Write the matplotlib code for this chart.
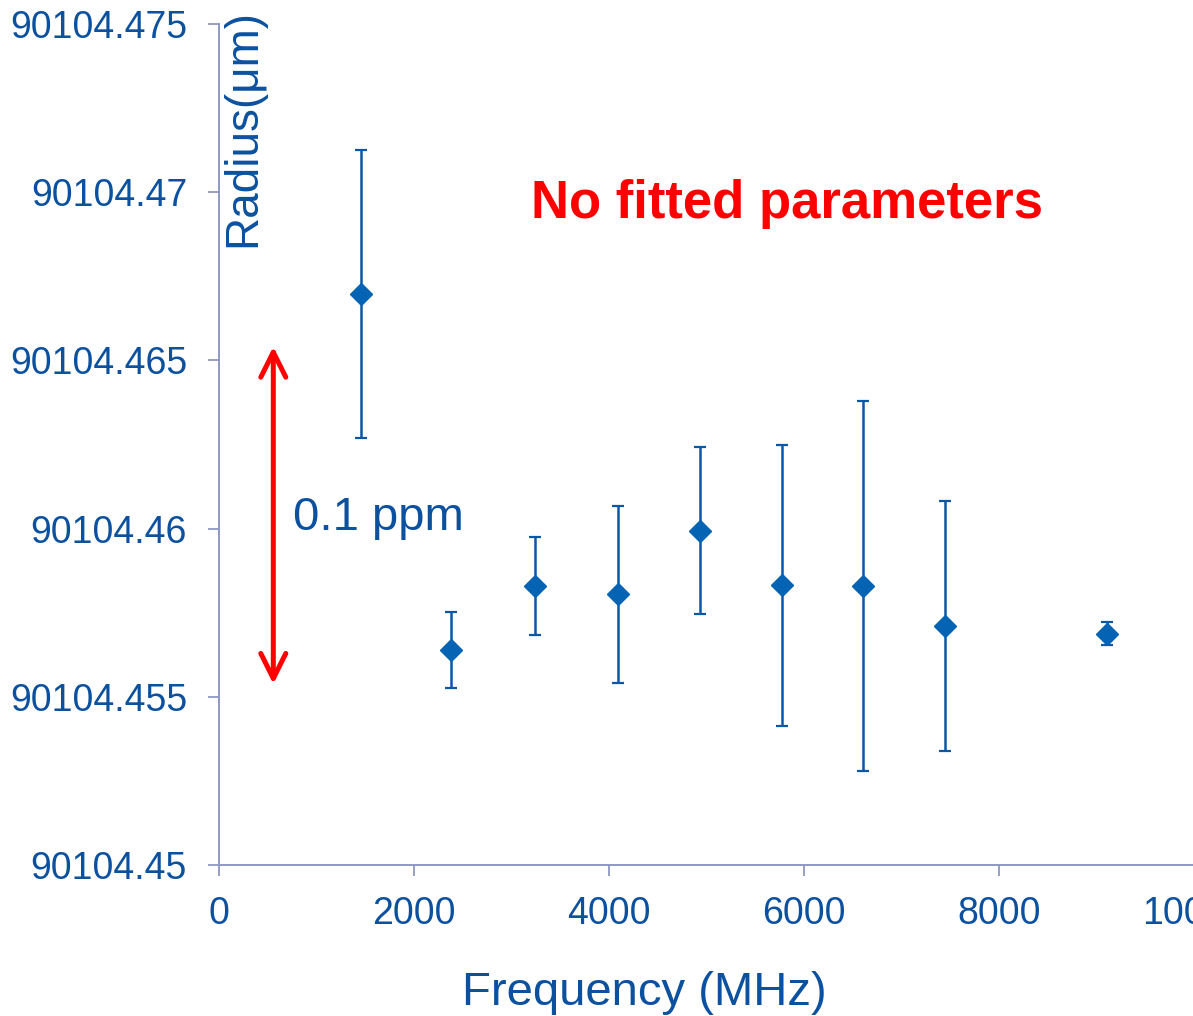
import matplotlib
matplotlib.use("Agg")
import matplotlib.pyplot as plt
from matplotlib.ticker import FixedLocator, FixedFormatter

plt.rcParams['font.family'] = ['Liberation Sans', 'DejaVu Sans']

# ---- data ----
frequency_mhz = [1456, 2379, 3241, 4092, 4933, 5771, 6608, 7446, 9111]
radius_um = [90104.46697, 90104.45639, 90104.45829, 90104.45805, 90104.45994,
             90104.45831, 90104.45830, 90104.45711, 90104.45688]
radius_err = [0.00428, 0.00112, 0.00145, 0.00263, 0.00249,
              0.00419, 0.00550, 0.00371, 0.00034]

x_ticks = [0, 2000, 4000, 6000, 8000, 10000]
x_tick_labels = ['0', '2000', '4000', '6000', '8000', '10000']
y_ticks = [90104.45, 90104.455, 90104.46, 90104.465, 90104.47, 90104.475]
y_tick_labels = ['90104.45', '90104.455', '90104.46', '90104.465', '90104.47', '90104.475']

arrow_x = 557
arrow_y = [90104.45538, 90104.46541]

TEXT_BLUE = '#0B519F'
MARK_BLUE = '#0563B4'
AXIS_COL = '#8E99C2'

W, H = 1193, 1016
fig = plt.figure(figsize=(W / 100, H / 100), dpi=100)
left, right, top, bottom = 219, 1194, 24, 865
ax = fig.add_axes([left / W, 1 - bottom / H, (right - left) / W, (bottom - top) / H])

ax.errorbar(frequency_mhz, radius_um, yerr=radius_err, fmt='D', color=MARK_BLUE,
            markeredgecolor=MARK_BLUE, ecolor='#0A57A6', elinewidth=1.8,
            capsize=4.5, capthick=1.6, markersize=11.5, zorder=3)

ax.set_xlim(x_ticks[0], x_ticks[-1])
ax.set_ylim(y_ticks[0], y_ticks[-1])
ax.xaxis.set_major_locator(FixedLocator(x_ticks))
ax.xaxis.set_major_formatter(FixedFormatter(x_tick_labels))
ax.yaxis.set_major_locator(FixedLocator(y_ticks))
ax.yaxis.set_major_formatter(FixedFormatter(y_tick_labels))

for s in ['top', 'right']:
    ax.spines[s].set_visible(False)
for s in ['left', 'bottom']:
    ax.spines[s].set_color(AXIS_COL)
    ax.spines[s].set_linewidth(1.4)

ax.tick_params(axis='both', direction='out', length=8, width=1.3, color=AXIS_COL,
               labelsize=27, labelcolor=TEXT_BLUE)
ax.tick_params(axis='y', pad=15)
ax.tick_params(axis='x', pad=14)

fig.text(644 / W, 1 - 1005 / H, 'Frequency (MHz)', ha='center', va='baseline',
         fontsize=34, color=TEXT_BLUE)
fig.text(243 / W, 1 - 128 / H, 'Radius(μm)', ha='center', va='center', rotation=90,
         fontsize=33, color=TEXT_BLUE)

fig.text(787 / W, 1 - 218 / H, 'No fitted parameters', ha='center', va='baseline',
         fontsize=38, fontweight='bold', color='#FF0000')
fig.text(293 / W, 1 - 530 / H, '0.1 ppm', ha='left', va='baseline',
         fontsize=34, color=TEXT_BLUE)

ax.annotate('', xy=(arrow_x, arrow_y[1]), xytext=(arrow_x, arrow_y[0]),
            arrowprops=dict(arrowstyle='<->,head_length=0.9,head_width=0.45',
                            color='#FF0000', lw=3.6, shrinkA=0, shrinkB=0,
                            mutation_scale=20, capstyle='round', joinstyle='round'),
            annotation_clip=False)

fig.savefig('out.png', dpi=100)
